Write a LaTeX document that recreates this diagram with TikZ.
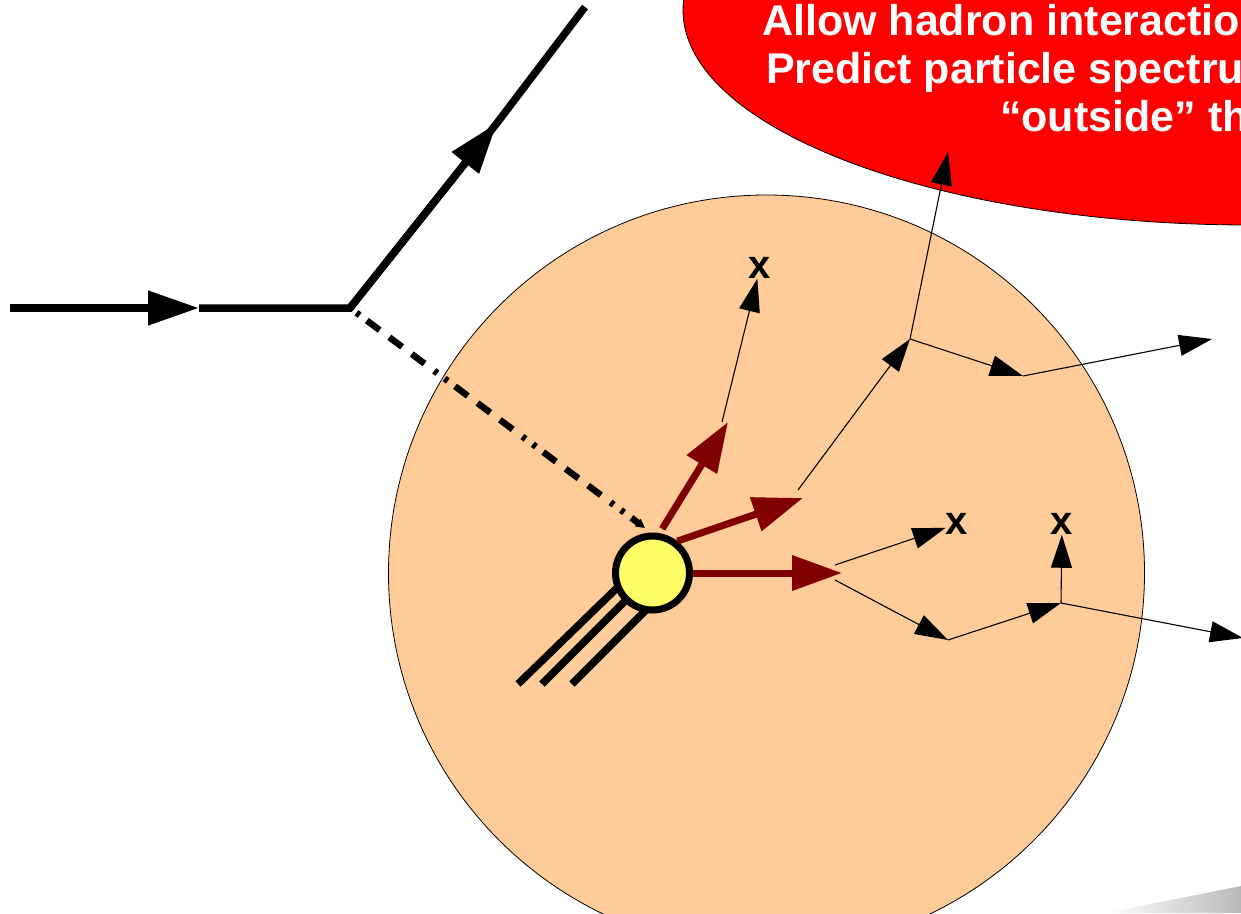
\documentclass[tikz,border=0pt]{standalone}
\usepackage{fontspec}
\setmainfont{Liberation Sans}
\usetikzlibrary{arrows.meta}
\definecolor{nucleus}{HTML}{FFCC99}
\definecolor{hadron}{HTML}{800000}
\definecolor{quark}{HTML}{FFFF66}
\begin{document}
\begin{tikzpicture}[x=1pt,y=-1pt,
  lepton/.style={line width=7.5pt},
  leptonarr/.style={line width=7.5pt,-{Triangle[length=51pt,width=33pt]}},
  photon/.style={line width=6.5pt,dash pattern=on 16pt off 12pt on 16pt off 12pt on 16pt off 12pt on 4pt off 9pt on 4pt off 9pt,dash phase=89pt,-{Triangle[length=9pt,width=9pt]}},
  hadarr/.style={hadron,line width=7pt,-{Triangle[length=50pt,width=34pt]}},
  track/.style={line width=1.1pt,-{Triangle[length=33pt,width=21pt]}},
  stopmark/.style={font=\bfseries\fontsize{40}{40}\selectfont,inner sep=0pt},
  banner/.style={white,font=\bfseries\fontsize{43}{48}\selectfont,anchor=base west,inner sep=0pt}]
  \useasboundingbox (0,0) rectangle (1241,913);
  \clip (0,0) rectangle (1241,913);
  \fill[white] (0,0) rectangle (1241,913);
  \shade[left color=white,right color=gray!55] (1105,913) -- (1241,886) -- (1241,913) -- cycle;

  \draw[fill=red,line width=0.8pt] (1250,10) ellipse [x radius=567pt,y radius=215pt];
  \node[banner] (say1) at (762,35) {Allow hadron interaction};
  \node[banner] (say2) at (766,83) {Predict particle spectru};
  \node[banner] (say3) at (1000,131) {“outside” th};

  \draw[fill=nucleus,line width=0.8pt] (766.5,573) circle [radius=378pt];

  \coordinate (lin) at (10,308);
  \coordinate (lmid) at (199,308);
  \coordinate (lv) at (350,308);
  \coordinate (lotip) at (497,123);
  \coordinate (lout) at (585,7);
  \draw[leptonarr] (lin) -- (lmid);
  \draw[lepton] (lmid) -- (lv) -- (lotip) -- (lout);
  \draw[leptonarr] (lv) -- (lotip);

  \coordinate (gtip) at (645,528);
  \draw[photon] (lv) -- (gtip);

  \coordinate (q1a) at (518,684);
  \coordinate (q1b) at (620,585);
  \coordinate (q2a) at (542,684);
  \coordinate (q2b) at (635,591);
  \coordinate (q3a) at (572,684);
  \coordinate (q3b) at (650,606);
  \draw[lepton] (q1a) -- (q1b);
  \draw[lepton] (q2a) -- (q2b);
  \draw[lepton] (q3a) -- (q3b);

  \node[circle,draw,fill=quark,line width=7pt,minimum size=74pt,inner sep=0pt] (vtx) at (652.5,573) {};

  \coordinate (h1) at (728,422);
  \coordinate (h2) at (803,498);
  \coordinate (h3) at (842,573);
  \draw[hadarr,shorten <=5pt] (vtx.80) -- (h1);
  \draw[hadarr] (vtx.52) -- (h2);
  \draw[hadarr] (vtx.0) -- (h3);

  \node[stopmark] (x1) at (760,268) {x};
  \node[stopmark] (x2) at (957,524) {x};
  \node[stopmark] (x3) at (1062,524) {x};

  \coordinate (t1s) at (722,422);
  \coordinate (t2s) at (798,490);
  \coordinate (t3s) at (835,565);
  \coordinate (t4s) at (835,580);
  \coordinate (v1) at (910,339);
  \coordinate (v2) at (1023,376);
  \coordinate (v3) at (948,640);
  \coordinate (v4) at (1061,603);
  \coordinate (ptop) at (948,152);
  \coordinate (pr1) at (1212,339);
  \coordinate (pr2) at (1243,638);

  \draw[track] (t1s) -- (x1);
  \draw[track] (t2s) -- (v1);
  \draw[track] (v1) -- (ptop);
  \draw[track] (v1) -- (v2);
  \draw[track] (v2) -- (pr1);
  \draw[track] (t3s) -- (x2);
  \draw[track] (t4s) -- (v3);
  \draw[track] (v3) -- (v4);
  \draw[track] (v4) -- (x3);
  \draw[track] (v4) -- (pr2);
\end{tikzpicture}
\end{document}
